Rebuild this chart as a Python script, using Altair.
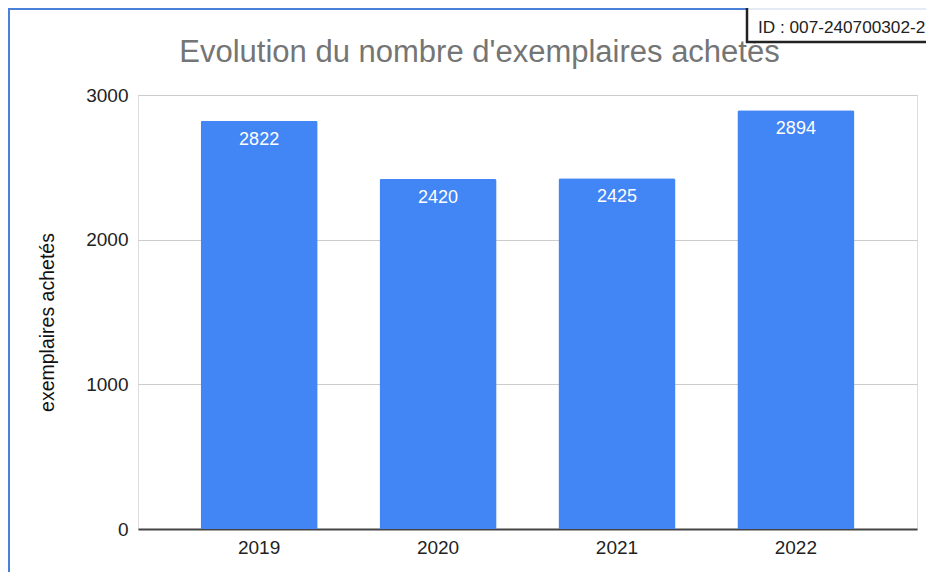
import altair as alt
import pandas as pd

years = ["2019", "2020", "2021", "2022"]
values = [2822, 2420, 2425, 2894]
y_ticks = [0, 1000, 2000, 3000]
title_text = "Evolution du nombre d'exemplaires achetés"
y_title = "exemplaires achetés"
id_text = "ID : 007-240700302-2"

FONT = "Liberation Sans"
W, H = 779, 434
PAD = {"left": 130, "top": 87, "right": 9, "bottom": 43}

df = pd.DataFrame({"year": years, "value": values})

x_enc = alt.X("year:N", title=None,
              scale=alt.Scale(paddingInner=0.346, paddingOuter=0.35),
              axis=alt.Axis(labelAngle=0, labelFontSize=19, labelColor="#222222",
                            labelFont=FONT, ticks=False, labelPadding=9,
                            domainColor="#444444", domainWidth=2, grid=False))
y_enc = alt.Y("value:Q", title=y_title,
              scale=alt.Scale(domain=[0, 3000], nice=False),
              axis=alt.Axis(values=y_ticks, format="d", labelFontSize=19, labelColor="#222222",
                            labelFont=FONT, ticks=False, labelPadding=10, domain=False,
                            gridColor="#cccccc", gridWidth=1,
                            titleFont=FONT, titleFontSize=19.5, titleFontWeight="normal",
                            titleColor="#111111", titleAngle=-90, titleAlign="center",
                            titleBaseline="middle", titleX=-91, titleY=227))

base = alt.Chart(df)
bars = base.mark_bar(color="#4285F4", cornerRadiusTopLeft=2, cornerRadiusTopRight=2).encode(
    x=x_enc, y=y_enc)
labels = base.mark_text(color="white", font=FONT, fontSize=18, baseline="alphabetic",
                        align="center", dy=24).encode(
    x=alt.X("year:N"), y=alt.Y("value:Q"), text=alt.Text("value:Q"))

tdf = pd.DataFrame({"t": [title_text]})
title = alt.Chart(tdf).mark_text(font=FONT, fontSize=31, color="#757575",
                                 align="center", baseline="alphabetic").encode(
    x=alt.value(341.5), y=alt.value(-33), text="t:N")

one = pd.DataFrame({"k": [1]})
border_left = alt.Chart(one).mark_rule(color="#4a80d8", strokeWidth=2).encode(
    x=alt.value(-129), y=alt.value(-87), y2=alt.value(495))
border_top = alt.Chart(one).mark_rule(color="#4a80d8", strokeWidth=2).encode(
    x=alt.value(-130), x2=alt.value(609), y=alt.value(-86))
box = alt.Chart(one).mark_rect(color="white").encode(
    x=alt.value(609), x2=alt.value(800), y=alt.value(-90), y2=alt.value(-53))
box_line = alt.Chart(one).mark_rule(color="#dbe5f5", strokeWidth=1.5).encode(
    x=alt.value(610), x2=alt.value(800), y=alt.value(-86))
box_left = alt.Chart(one).mark_rule(color="#222222", strokeWidth=2.5).encode(
    x=alt.value(609), y=alt.value(-90), y2=alt.value(-52))
box_bottom = alt.Chart(one).mark_rule(color="#222222", strokeWidth=2.5).encode(
    x=alt.value(608), x2=alt.value(800), y=alt.value(-53))
idf = pd.DataFrame({"t": [id_text]})
id_label = alt.Chart(idf).mark_text(font=FONT, fontSize=17.2, color="#222222",
                                    align="left", baseline="alphabetic").encode(
    x=alt.value(620), y=alt.value(-62), text="t:N")

chart = alt.layer(bars, labels, title, border_left, border_top, box, box_line,
                  box_left, box_bottom, id_label).properties(
    width=W, height=H,
    autosize=alt.AutoSizeParams(type="none"),
    padding=PAD,
).configure_view(stroke=None).configure(background="white")

chart.save("out.html", embed_options={"renderer": "svg", "actions": False})
